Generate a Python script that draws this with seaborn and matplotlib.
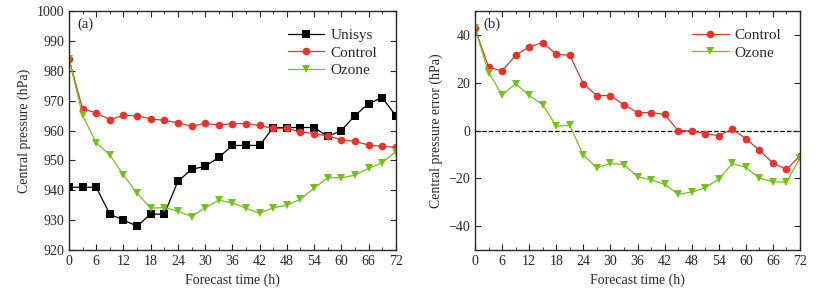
import numpy as np
import pandas as pd
import matplotlib
matplotlib.use("Agg")
import matplotlib.pyplot as plt
import seaborn as sns
from matplotlib.ticker import MultipleLocator

hours = list(range(0, 75, 3))

# panel (a): central pressure (hPa)
unisys = [941, 941, 941, 932, 930, 928, 932, 932, 943, 947, 948, 951, 955,
          955, 955, 961, 961, 961, 961, 958, 960, 965, 969, 971, 965]
control = [984, 967.3, 965.9, 963.6, 965.1, 964.9, 963.9, 963.4, 962.6, 961.4,
           962.4, 961.8, 962.3, 962.3, 961.7, 960.7, 960.7, 959.6, 958.9, 958.2,
           956.9, 956.4, 955.1, 954.7, 954.4]
ozone = [984, 965.1, 955.9, 951.8, 945.1, 939, 934, 934.2, 933, 931.2, 934.1,
         936.7, 935.7, 934, 932.3, 934.1, 935, 937, 940.7, 944.2, 944.2, 945,
         947.3, 949.2, 952.9]

# panel (b): central pressure error (hPa)
control_err = [42.8, 26.5, 24.9, 31.5, 35, 36.8, 31.9, 31.5, 19.6, 14.6, 14.6,
               10.8, 7.5, 7.5, 6.8, -0.1, -0.1, -1.4, -2.1, 0.6, -3.4, -8.3,
               -13.6, -16.3, -10.6]
ozone_err = [42.8, 24.2, 14.9, 19.6, 14.7, 10.8, 1.8, 2.2, -10.3, -15.6, -13.8,
             -14.3, -19.3, -20.7, -22.5, -26.7, -25.8, -23.9, -20.4, -13.8,
             -15.4, -20, -21.4, -21.7, -11.4]

colors = {"Unisys": "black", "Control": "#e8322a", "Ozone": "#72c11a"}
markers = {"Unisys": "s", "Control": "o", "Ozone": "v"}

sns.set_style("ticks")
plt.rcParams["font.family"] = ["Liberation Serif", "DejaVu Serif"]
plt.rcParams["font.size"] = 10

df_a = pd.DataFrame({
    "hour": hours * 3,
    "value": unisys + control + ozone,
    "series": ["Unisys"] * 25 + ["Control"] * 25 + ["Ozone"] * 25,
})
df_b = pd.DataFrame({
    "hour": hours * 2,
    "value": control_err + ozone_err,
    "series": ["Control"] * 25 + ["Ozone"] * 25,
})

fig = plt.figure(figsize=(8.35, 2.99), dpi=100)
ax1 = fig.add_axes([0.0826, 0.164, 0.3914, 0.799])
ax2 = fig.add_axes([0.5689, 0.164, 0.3892, 0.799])

for ax, df in [(ax1, df_a), (ax2, df_b)]:
    sns.lineplot(data=df, x="hour", y="value", hue="series", style="series",
                 palette=colors, markers=markers, dashes=False, lw=0.9,
                 markersize=5.5, markeredgewidth=0, ax=ax)
    ax.set_xlim(0, 72)
    ax.xaxis.set_major_locator(MultipleLocator(6))
    ax.xaxis.set_minor_locator(MultipleLocator(3))
    ax.tick_params(which="both", direction="in", top=True, right=True,
                   labelsize=10)
    ax.tick_params(which="major", length=4)
    ax.tick_params(which="minor", length=2.5)
    ax.set_xlabel("Forecast time (h)", fontsize=10)
    for s in ax.spines.values():
        s.set_linewidth(1)
    ax.legend(title=None, frameon=False, loc="upper right",
              handlelength=2.4, handletextpad=0.4, fontsize=11,
              labelspacing=0.25, bbox_to_anchor=(0.985, 0.985))

ax1.set_ylim(920, 1000)
ax1.yaxis.set_major_locator(MultipleLocator(10))
ax1.set_ylabel("Central pressure (hPa)", fontsize=10)
ax1.text(0.025, 0.975, "(a)", transform=ax1.transAxes, va="top", fontsize=10.5)

ax2.set_ylim(-50, 50)
ax2.yaxis.set_major_locator(MultipleLocator(20))
ax2.axhline(0, color="black", ls="--", lw=0.9, zorder=0)
ax2.set_ylabel("Central pressure error (hPa)", fontsize=10)
ax2.text(0.025, 0.975, "(b)", transform=ax2.transAxes, va="top", fontsize=10.5)

fig.savefig("out.png", dpi=100)
